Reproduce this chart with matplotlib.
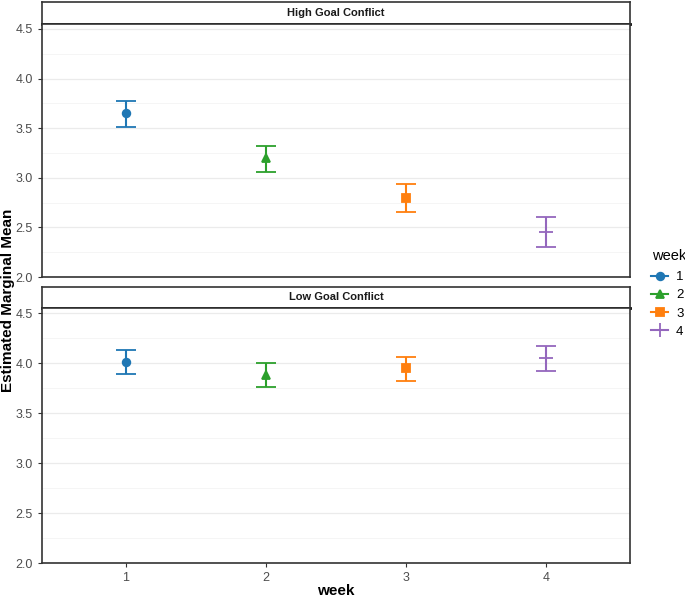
import numpy as np
import matplotlib.pyplot as plt
from matplotlib.lines import Line2D

plt.rcParams['font.family'] = ['Liberation Sans', 'DejaVu Sans']

# 数据：每周的估计边际均值与误差线上下限
weeks = [1, 2, 3, 4]
week_labels = ['1', '2', '3', '4']
panels = ['High Goal Conflict', 'Low Goal Conflict']

high_mean = [3.65, 3.20, 2.80, 2.45]
high_low = [3.51, 3.06, 2.66, 2.30]
high_high = [3.77, 3.32, 2.94, 2.60]

low_mean = [4.01, 3.88, 3.95, 4.05]
low_low = [3.89, 3.76, 3.82, 3.92]
low_high = [4.13, 4.00, 4.06, 4.17]

colors = ['#1f77b4', '#2ca02c', '#ff7f0e', '#9467bd']
markers = ['o', '^', 's', '+']

W, H = 685, 597
fig = plt.figure(figsize=(W / 100, H / 100), dpi=100)


def fx(px):
    return px / W


def fy(py):
    return 1 - py / H


def draw_panel(top, bottom, strip_top, title, mean, lo, hi, show_x):
    # 面板条
    sax = fig.add_axes([fx(42), fy(top), fx(630) - fx(42), fy(strip_top) - fy(top)])
    sax.set_xticks([])
    sax.set_yticks([])
    for s in sax.spines.values():
        s.set_color('#333333')
        s.set_linewidth(1.2)
    sax.spines['bottom'].set_color('black')
    sax.spines['bottom'].set_linewidth(2)
    sax.text(0.5, 0.5, title, ha='center', va='center', fontsize=8,
             fontweight='bold', transform=sax.transAxes, color='#1a1a1a')

    ax = fig.add_axes([fx(42), fy(bottom), fx(630) - fx(42), fy(top) - fy(bottom)])
    for i, w in enumerate(weeks):
        ax.errorbar(w, mean[i], yerr=[[mean[i] - lo[i]], [hi[i] - mean[i]]],
                    color=colors[i], capsize=7.5, elinewidth=1.5, capthick=1.5,
                    marker=markers[i], markersize=5.5 if markers[i] != '+' else 10,
                    mew=1.3, linestyle='none', zorder=3)
    ax.set_xlim(0.4, 4.6)
    ax.set_ylim(2.0, 4.55)
    ax.set_yticks([2.0, 2.5, 3.0, 3.5, 4.0, 4.5])
    ax.set_yticks(np.arange(2.25, 4.55, 0.5), minor=True)
    ax.yaxis.grid(True, which='major', color='#ebebeb', lw=0.9)
    ax.yaxis.grid(True, which='minor', color='#f4f4f4', lw=0.6)
    ax.set_axisbelow(True)
    ax.set_xticks(weeks)
    ax.tick_params(axis='both', which='major', labelsize=9, colors='#333333',
                   labelcolor='#4d4d4d', length=3, width=0.8)
    ax.tick_params(axis='y', which='minor', length=0)
    if show_x:
        ax.set_xticklabels(week_labels)
    else:
        ax.set_xticklabels([])
        ax.tick_params(axis='x', length=0)
    ax.yaxis.set_major_formatter(plt.FuncFormatter(lambda v, p: f'{v:.1f}'))
    for s in ax.spines.values():
        s.set_color('#333333')
        s.set_linewidth(1.2)
    return ax


draw_panel(24, 277, 2, panels[0], high_mean, high_low, high_high, False)
draw_panel(308, 563, 287, panels[1], low_mean, low_low, low_high, True)

fig.text(fx(8), fy(300), 'Estimated Marginal Mean', rotation=90, ha='center',
         va='center', fontsize=11, fontweight='bold')
fig.text(fx(336), fy(591), 'week', ha='center', va='center', fontsize=11,
         fontweight='bold')

# 图例
fig.text(fx(652), fy(256), 'week', ha='left', va='center', fontsize=10.5)
handles = [Line2D([0], [0], color=colors[i], marker=markers[i], lw=1.5,
                  markersize=5.5 if markers[i] != '+' else 10, mew=1.3)
           for i in range(4)]
leg = fig.legend(handles, week_labels, loc='upper left',
                 bbox_to_anchor=(fx(651), fy(271)), frameon=False, fontsize=9.5,
                 handlelength=1.3, labelspacing=0.45,
                 handletextpad=0.6, borderpad=0, borderaxespad=0)

fig.savefig('out.png', dpi=100)
